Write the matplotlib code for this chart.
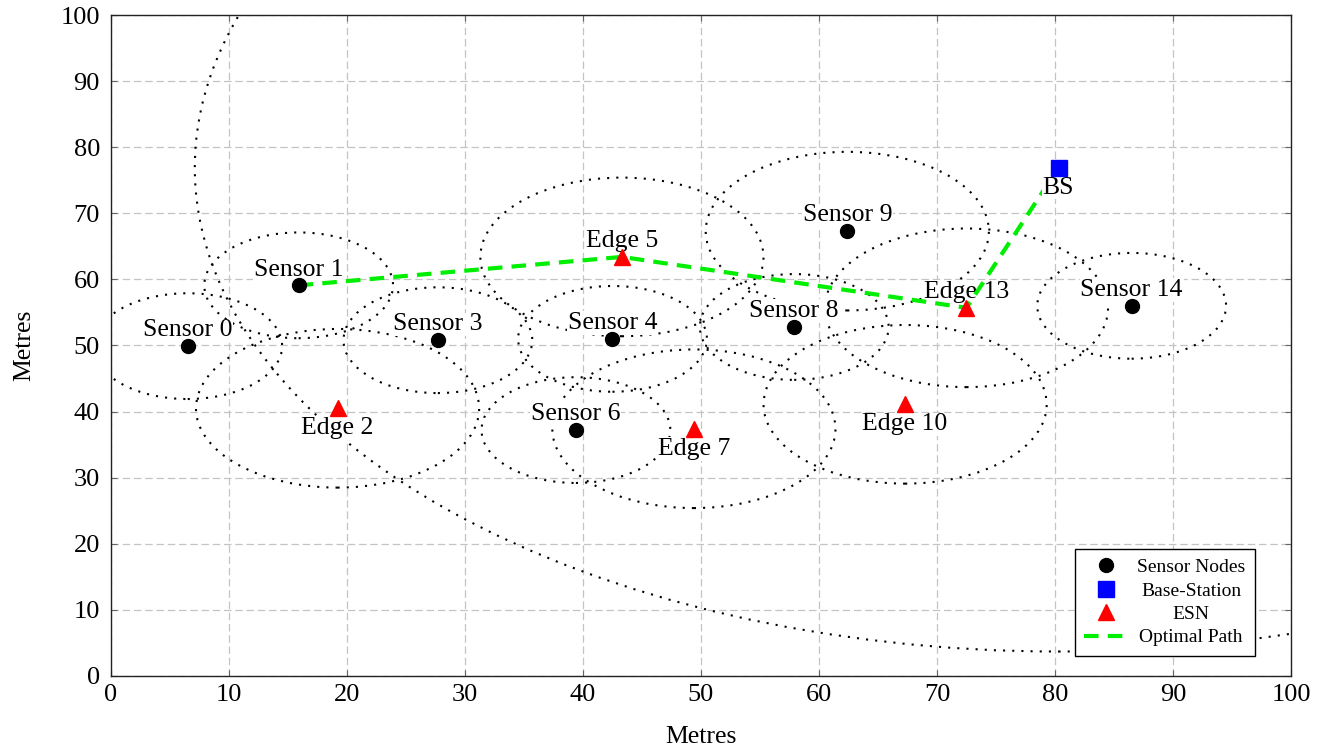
import matplotlib
matplotlib.use("Agg")
import matplotlib.pyplot as plt
from matplotlib.patches import Circle

# ── DATA ─────────────────────────────────────
sensor_names = ["Sensor 0", "Sensor 1", "Sensor 3", "Sensor 4", "Sensor 6",
                "Sensor 8", "Sensor 9", "Sensor 14"]
sensor_x = [6.5, 15.9, 27.7, 42.5, 39.4, 57.9, 62.4, 86.5]
sensor_y = [49.9, 59.1, 50.8, 51.0, 37.2, 52.8, 67.3, 56.0]
sensor_r = [8, 8, 8, 8, 8, 8, 12, 8]

edge_names = ["Edge 2", "Edge 5", "Edge 7", "Edge 10", "Edge 13"]
edge_x = [19.2, 43.3, 49.4, 67.3, 72.5]
edge_y = [40.5, 63.4, 37.4, 41.1, 55.7]
edge_r = [12, 12, 12, 12, 12]
edge_label_pos = ["below", "above", "below", "below", "above"]

bs_x, bs_y = 80.3, 76.9
bs_r = 73.2

path_x = [15.9, 43.3, 72.5, 80.3]
path_y = [59.1, 63.4, 55.7, 76.9]

# ── STYLE ────────────────────────────────────
plt.rcParams['font.family'] = ['Liberation Serif', 'DejaVu Serif']
GRID = '#c4c4c4'
DOTS = (0, (1, 3.4))
FS = 18.5

fig = plt.figure(figsize=(13.28, 7.5), dpi=100)
ax = fig.add_axes([0.0836, 0.0987, 0.8885, 0.8813])

ax.set_xlim(0, 100)
ax.set_ylim(0, 100)
ax.set_xticks(range(0, 101, 10))
ax.set_yticks(range(0, 101, 10))
ax.grid(True, color=GRID, linestyle=(0, (6, 3)), linewidth=0.9)
ax.set_axisbelow(True)
ax.tick_params(direction='in', length=4, width=0.8, color='#666666',
               top=True, right=True, labelsize=19)
ax.tick_params(axis='y', pad=8)
ax.tick_params(axis='x', pad=6)
for s in ax.spines.values():
    s.set_linewidth(1.0)
    s.set_color('#222222')
ax.set_xlabel("Metres", fontsize=FS, labelpad=14)
ax.set_ylabel("Metres", fontsize=FS, labelpad=18)

# ── RANGE CIRCLES ────────────────────────────
for x, y, r in zip(sensor_x, sensor_y, sensor_r):
    ax.add_patch(Circle((x, y), r, fill=False, ec='black', lw=1.5,
                        linestyle=DOTS, zorder=2))
for x, y, r in zip(edge_x, edge_y, edge_r):
    ax.add_patch(Circle((x, y), r, fill=False, ec='black', lw=1.5,
                        linestyle=DOTS, zorder=2))
ax.add_patch(Circle((bs_x, bs_y), bs_r, fill=False, ec='black', lw=1.5,
                    linestyle=DOTS, zorder=2))

# ── LABELS ───────────────────────────────────
def label(x, y, txt, pos, z=3):
    if pos == "above":
        ax.annotate(txt, (x, y), xytext=(0, 7), textcoords='offset points',
                    ha='center', va='baseline', fontsize=FS, zorder=z,
                    bbox=dict(fc='white', ec='none', pad=0.5))
    else:
        ax.annotate(txt, (x, y), xytext=(0, -6.5), textcoords='offset points',
                    ha='center', va='top', fontsize=FS, zorder=z,
                    bbox=dict(fc='white', ec='none', pad=0.5))

for n, x, y in zip(sensor_names, sensor_x, sensor_y):
    label(x, y, n, "above")
for n, x, y, p in zip(edge_names, edge_x, edge_y, edge_label_pos):
    label(x, y, n, p)
label(bs_x, bs_y, "BS", "below", z=5)

# ── PATH & NODES ─────────────────────────────
ax.plot(path_x, path_y, color='#00ee00', lw=3, linestyle=(0, (3.5, 2.2)),
        zorder=4, label='Optimal Path')
ax.plot(sensor_x, sensor_y, 'o', color='black', ms=10, linestyle='none',
        zorder=6, label='Sensor Nodes')
ax.plot([bs_x], [bs_y], 's', color='blue', ms=12, linestyle='none',
        zorder=6, label='Base-Station')
ax.plot(edge_x, edge_y, '^', color='red', ms=11, linestyle='none',
        zorder=6, label='ESN')

h, l = ax.get_legend_handles_labels()
order = [1, 2, 3, 0]
leg = ax.legend([h[i] for i in order], [l[i] for i in order],
                loc='lower right', bbox_to_anchor=(0.9695, 0.030),
                borderaxespad=0, fontsize=14, fancybox=False,
                edgecolor='black', framealpha=1, handlelength=2.2,
                handletextpad=0.5, labelspacing=0.3, borderpad=0.5)
leg.get_frame().set_linewidth(1.0)
leg.set_zorder(10)

# centre legend texts in their column
fig.canvas.draw()
widths = [t.get_window_extent().width for t in leg.get_texts()]
maxw = max(widths)
for t, w in zip(leg.get_texts(), widths):
    t.set_x((maxw - w) / 2)

fig.savefig("out.png", dpi=100)
